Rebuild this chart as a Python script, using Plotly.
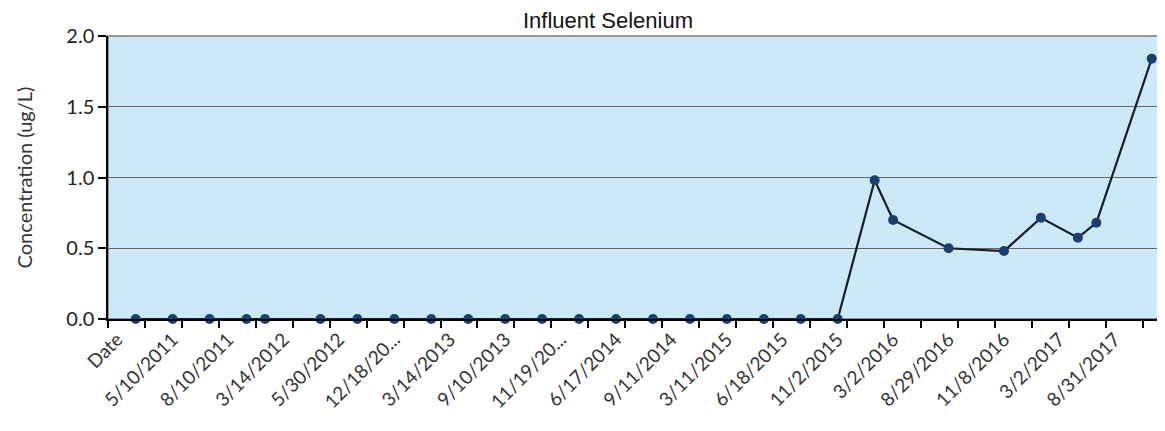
import plotly.graph_objects as go

# 57 category slots (Excel line-chart categories); None = empty cell
values = [None, 0, None, 0, None, 0, None, 0, 0, None,
          None, 0, None, 0, None, 0, None, 0, None, 0,
          None, 0, None, 0, None, 0, None, 0, None, 0,
          None, 0, None, 0, None, 0, None, 0, None, 0,
          None, 0.98, 0.70, None, None, 0.50, None, None, 0.48, None,
          0.715, None, 0.575, 0.68, None, None, 1.84]

tick_labels = ["Date", "5/10/2011", "8/10/2011", "3/14/2012", "5/30/2012",
               "12/18/20...", "3/14/2013", "9/10/2013", "11/19/20...", "6/17/2014",
               "9/11/2014", "3/11/2015", "6/18/2015", "11/2/2015", "3/2/2016",
               "8/29/2016", "11/8/2016", "3/2/2017", "8/31/2017"]
label_step = 3
y_ticks = [0.0, 0.5, 1.0, 1.5, 2.0]

slots = list(range(len(values)))
xs = [s for s, v in zip(slots, values) if v is not None]
ys = [v for v in values if v is not None]

fig = go.Figure()
fig.add_trace(go.Scatter(
    x=xs, y=ys, mode="lines+markers",
    line=dict(color="#161c2c", width=2.2),
    marker=dict(color="#1b3f73", size=10),
    showlegend=False, cliponaxis=False,
))

fig.update_layout(
    width=1165, height=431,
    margin=dict(l=100, r=12, t=28, b=120),
    paper_bgcolor="white",
    plot_bgcolor="#cbe9f9",
    title=dict(text="Influent Selenium", x=0.515, xanchor="center",
               y=0.99, yanchor="top", yref="container", pad=dict(t=0),
               font=dict(family="Liberation Sans, Arial", size=22, color="#111")),
    font=dict(family="Lato, Open Sans, sans-serif", color="#222"),
)

fig.update_xaxes(
    range=[-0.5, len(values) - 0.5],
    tickmode="array",
    tickvals=list(range(0, len(values), label_step)),
    ticktext=tick_labels,
    tickangle=-45,
    ticks="",
    tickfont=dict(size=19, color="#333"),
    showgrid=False, zeroline=False,
    showline=True, linecolor="black", linewidth=2,
    minor=dict(tick0=-0.5, dtick=2, ticks="outside", ticklen=7,
               tickcolor="black", tickwidth=2, showgrid=False),
)
fig.update_yaxes(
    range=[0, 2],
    tickmode="array", tickvals=y_ticks,
    ticktext=[f"{v:.1f}" for v in y_ticks],
    ticks="outside", ticklen=8, tickcolor="black", tickwidth=1.5,
    tickfont=dict(size=20, color="#222"),
    showgrid=True, gridcolor="#666666", gridwidth=1.3,
    zeroline=False,
    showline=True, linecolor="black", linewidth=1.5,
    title=dict(text="Concentration (ug/L)", font=dict(size=20, color="#333"),
               standoff=28),
)

# plot-area border (top/right gray)
fig.add_shape(type="rect", xref="paper", yref="paper", x0=0, x1=1, y0=0, y1=1,
              line=dict(color="#777", width=1.5), layer="below")

fig.write_html("out.html")
